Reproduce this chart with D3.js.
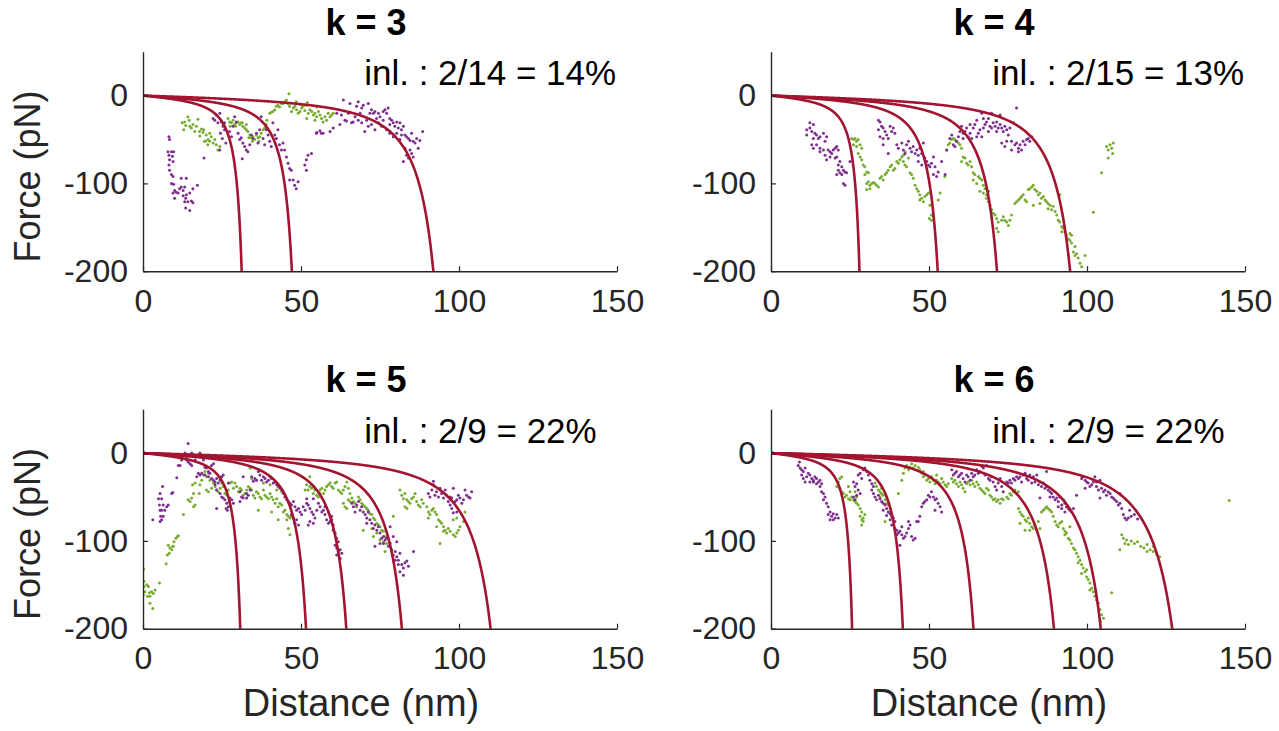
<!DOCTYPE html>
<html>
<head>
<meta charset="utf-8">
<script src="https://cdn.jsdelivr.net/npm/d3@7"></script>
<style>
  html, body { margin: 0; padding: 0; background: #ffffff; }
  svg { display: block; font-family: "Liberation Sans", Arial, Helvetica, sans-serif; }
</style>
</head>
<body>
<svg id="chart" width="1279" height="731"></svg>
<script>
// ---- axis ticks and labels ----
const xTicks = [0, 50, 100, 150];
const yTicks = [-200, -100, 0];
const panelTitles = ["k = 3", "k = 4", "k = 5", "k = 6"];
const inlierLabels = ["inl. : 2/14 = 14%", "inl. : 2/15 = 13%", "inl. : 2/9 = 22%", "inl. : 2/9 = 22%"];

// ---- WLC contour lengths (nm) of the fitted unfolding events ----
const contourK3 = [34.8, 52.5, 102.4];
const contourK4 = [31.2, 58.8, 79.7, 105.5];
const contourK5 = [34.3, 57.5, 71.7, 91.3, 122.6];
const contourK6 = [28.6, 46.5, 71.4, 99.8, 116.3, 141.5];

// ---- force-distance traces [distance nm, force pN] ----
const purpleK3 = [
  [8.2,-47],[8.4,-50],[7.9,-64],[9.0,-64],[9.7,-64],[8.2,-68],[9.3,-69],[8.4,-73],[9.5,-75],[8.2,-79],[8.4,-85],[9.0,-90],[9.5,-92],[9.0,-100],[9.7,-101],[10.0,-108],[10.5,-110],[9.5,-111],[10.0,-117],[12.1,-94],[13.7,-94],[12.1,-104],[13.2,-104],[13.7,-113],[12.7,-114],[13.5,-117],[14.8,-111],[15.8,-106],[17.2,-102],[13.2,-121],[14.2,-121],[15.3,-120],[15.8,-122],[13.5,-128],[14.8,-131],[11.1,-111],[11.6,-106],[12.7,-108],[19.3,-71],
  [22.2,-26],[22.7,-28],[23.2,-22],[23.7,-31],[24.3,-20],[24.8,-30],[25.3,-35],[25.8,-39],[24.5,-43],[25.1,-49],[26.2,-54],[24.3,-62],[25.8,-31],[27.4,-41],[28.0,-47],[28.5,-35],[29.0,-24],[29.5,-30],[30.1,-43],[30.6,-50],[31.1,-48],[31.6,-54],[32.2,-58],[32.7,-62],[33.2,-64],[31.4,-72],[33.8,-56],
  [34.3,-45],[34.8,-49],[35.9,-43],[36.4,-54],[36.9,-39],[37.4,-24],[38.0,-49],[38.5,-56],[39.0,-39],[39.6,-45],[40.1,-52],[40.6,-58],[41.1,-31],[41.7,-45],[42.2,-49],[42.7,-39],[43.2,-56],[43.8,-62],[44.3,-54],[44.8,-62],[45.4,-70],[45.9,-77],[46.4,-83],[46.9,-85],[46.4,-96],[47.5,-96],[48.0,-102],[48.5,-106],[49.1,-98],[51.2,-79],[51.7,-73],[52.2,-68],[53.3,-66],[51.7,-85],[54.9,-43],[56.4,-43],[55.0,-42],[56.0,-40],
  [63.4,-5],[65.5,-9],[67.6,-12],[68.1,-7],[69.2,-14],[69.7,-11],[71.3,-9],[72.3,-16],[72.9,-20],[73.4,-18],[74.5,-20],[75.0,-24],[76.0,-18],[76.6,-16],[77.1,-20],[77.6,-14],[78.1,-26],[78.7,-28],[79.2,-31],[80.3,-30],[80.8,-37],[81.3,-31],[81.8,-39],[82.4,-35],[82.9,-45],[83.4,-47],[84.0,-49],[84.5,-51],[85.0,-43],[85.5,-52],[86.1,-54],[86.6,-49],[87.1,-60],[87.6,-51],[88.5,-41],[84.5,-62],[85.0,-66],[85.5,-70],[84.0,-71],[82.4,-75],[83.4,-68],[82.9,-60],[81.3,-50],[80.3,-43],[79.2,-47],[78.1,-43],[77.1,-39],[75.5,-35],[74.5,-31],[73.4,-39],[72.3,-33],[71.3,-35],[70.2,-41],[69.2,-31],[68.1,-28],[67.1,-24],[66.0,-31],[65.0,-20],[63.9,-28],[62.8,-22],[62.3,-33],[61.3,-20],[60.2,-37],[59.2,-41],[57.0,-43],[64.4,-29],[70.8,-28],[73.9,-26],[76.0,-28],[78.1,-33],[79.7,-35],[81.8,-45],[71.8,-20],[68.7,-20],[66.5,-30]
];
const greenK3 = [
  [12.4,-31],[12.9,-39],[13.2,-30],[13.5,-34],[14.2,-24],[14.6,-28],[14.8,-35],[15.3,-37],[15.8,-33],[16.4,-41],[16.9,-35],[17.4,-27],[17.9,-41],[18.5,-38],[19.0,-42],[19.5,-52],[19.8,-52],[20.0,-45],[20.6,-50],[21.1,-52],[21.6,-47],[22.2,-54],[22.7,-50],[23.2,-56],[23.7,-62],[24.3,-58],[21.1,-43],[19.2,-39],[18.0,-46],[20.5,-56],
  [26.9,-26],[27.4,-30],[28.0,-31],[28.5,-28],[29.0,-33],[29.5,-31],[30.1,-30],[30.6,-33],[31.1,-31],[31.6,-35],[32.2,-37],[32.7,-39],[33.2,-41],[33.8,-45],[34.3,-48],[34.8,-47],[35.3,-50],[35.9,-45],[36.4,-48],[36.9,-47],[37.4,-43],[38.0,-39],[38.5,-37],[39.0,-33],[27.6,-35],[29.3,-35],[31.4,-31],[33.5,-48],[34.6,-52],[36.7,-52],[32.7,-33],
  [39.2,-28],[40.1,-20],[40.6,-19],[41.1,-18],[41.7,-16],[42.2,-12],[42.7,-11],[43.2,-13],[43.8,-9],[44.3,-9],[44.8,-7],[45.4,-5],[45.9,-9],[46.2,2],[46.4,-12],
  [47.0,-18],[47.6,-14],[48.1,-12],[48.6,-16],[49.1,-20],[49.7,-18],[50.2,-14],[50.7,-12],[51.2,-17],[51.8,-11],[52.3,-20],[52.8,-16],[53.4,-18],[53.9,-22],[54.4,-20],[54.9,-24],[55.5,-18],[56.0,-22],[56.5,-26],[57.0,-30],[57.6,-24],[58.1,-28],[58.6,-20],[59.2,-24],[59.7,-22],[60.2,-20],[51.8,-26],[54.4,-28],[52.0,-8],[55.0,-13],[48.5,-7],[50.0,-10]
];

const purpleK4 = [
  [12.3,-31],[13.4,-33],[11.3,-39],[12.3,-37],[12.9,-41],[13.9,-43],[11.3,-45],[14.4,-45],[13.4,-49],[15.0,-49],[15.5,-47],[16.6,-43],[17.6,-47],[17.1,-52],[12.9,-56],[14.4,-56],[15.5,-60],[16.6,-62],[18.1,-62],[18.7,-64],[19.2,-66],[19.7,-62],[20.3,-60],[20.8,-58],[21.3,-62],[15.5,-64],[17.1,-68],[17.6,-73],[18.7,-70],[20.3,-71],[20.8,-70],[21.8,-75],[22.4,-81],[21.3,-85],[22.9,-85],[21.8,-88],[23.4,-87],[23.9,-88],[20.8,-90],[22.4,-90],[22.9,-100],[23.4,-102],[21.3,-79],[25.0,-75],[13.4,-60],
  [34.0,-28],[34.5,-30],[35.0,-35],[34.0,-39],[35.5,-37],[36.1,-41],[36.6,-45],[34.5,-47],[35.5,-49],[37.1,-49],[38.2,-41],[39.2,-43],[38.7,-37],[37.7,-35],[35.5,-56],[37.1,-66],[39.8,-56],[40.3,-60],[41.4,-54],[41.9,-62],[42.4,-66],[42.9,-56],[43.5,-52],[44.0,-60],[44.5,-64],[45.0,-58],[45.6,-66],[46.1,-62],[46.6,-68],[47.1,-60],[47.7,-66],[48.2,-54],[48.7,-71],[49.3,-75],[49.8,-79],[50.3,-81],[50.8,-77],[51.4,-70],[51.9,-81],[51.4,-90],[52.4,-92],[52.9,-87],[54.0,-75],[55.1,-90],[55.6,-62],[46.6,-75],[47.7,-79],
  [56.6,-49],[57.2,-45],[57.7,-56],[58.2,-58],[58.7,-52],[59.3,-47],[59.8,-41],[60.3,-35],[60.8,-43],[61.4,-41],[61.9,-37],[62.4,-47],[63.0,-43],[63.5,-49],[64.0,-37],[64.5,-33],[65.1,-28],[65.6,-43],[66.1,-39],[66.7,-47],[66.7,-20],[67.2,-26],[67.7,-33],[68.2,-30],[68.8,-26],[69.3,-35],[69.8,-20],[70.3,-31],[70.9,-35],[71.4,-30],[71.9,-37],[72.5,-33],[73.0,-37],[73.5,-41],[74.0,-35],[74.6,-39],[75.1,-45],[75.6,-37],[76.1,-52],[76.7,-31],[77.2,-56],[77.7,-54],[78.3,-60],[78.8,-56],[79.3,-62],[79.8,-52],[80.4,-56],[80.9,-50],[81.4,-49],[81.9,-52],[82.5,-47],[77.7,-14],[73.0,-54],[74.0,-58],[76.1,-62],[74.6,-52],[78.3,-64],[69.8,-37],[68.8,-41],[72.5,-22],[63.0,-33],[60.8,-49],[65.1,-47],[67.2,-37],[71.4,-41]
];
const greenK4 = [
  [25.5,-49],[26.1,-50],[26.6,-49],[27.1,-52],[27.6,-50],[26.1,-56],[27.1,-58],[28.2,-56],[28.7,-60],[27.6,-66],[28.2,-70],[28.7,-73],[29.2,-79],[29.7,-81],[30.3,-87],[30.8,-88],[29.7,-90],[30.3,-100],[30.8,-98],[31.3,-102],[31.9,-100],[32.4,-99],[32.9,-100],[33.4,-102],[31.3,-106],[30.3,-107],[34.0,-104],[34.5,-94],[35.0,-92],[35.5,-96],[36.1,-90],[36.6,-88],[37.1,-85],[37.7,-81],[38.2,-79],[38.7,-85],[39.2,-83],[39.8,-75],[40.3,-77],[40.8,-73],[41.4,-70],[41.9,-75],[42.4,-79],[42.9,-81],[41.9,-68],[42.4,-64],[43.5,-71],[44.0,-88],[44.5,-90],[45.0,-94],[45.6,-102],[46.1,-106],[46.6,-109],[47.1,-113],[47.7,-117],[48.2,-121],[47.1,-119],[48.7,-115],[49.3,-113],[49.8,-111],[50.3,-125],[50.8,-136],[50.1,-140],[51.4,-138],[50.8,-142],[52.9,-119],[53.5,-111],
  [55.0,-92],[55.6,-62],[56.1,-56],[56.6,-54],[57.2,-50],[57.7,-49],[58.2,-50],[58.7,-52],[59.3,-54],[59.8,-56],[60.3,-60],[60.8,-70],[60.3,-75],[61.4,-71],[61.9,-77],[62.4,-79],[63.0,-75],[63.5,-81],[64.0,-88],[64.5,-90],[64.0,-96],[65.1,-100],[65.6,-92],[66.1,-94],[66.7,-96],[67.2,-102],[67.7,-106],[66.1,-109],[67.2,-111],[68.2,-113],[68.8,-109],[68.2,-117],[68.8,-121],[69.3,-125],[69.8,-130],[70.3,-134],[70.9,-136],[69.8,-138],[71.4,-140],[71.9,-144],[71.4,-151],[71.9,-155],[73.0,-142],[73.5,-138],[74.0,-142],[74.6,-144],[75.1,-148],[75.6,-142],[76.1,-136],[77.2,-123],[77.7,-121],[78.3,-119],[78.8,-117],[79.3,-115],[79.8,-113],[80.4,-119],[80.9,-121],[81.4,-107],[81.9,-106],[82.5,-104],[83.0,-102],[83.5,-107],[84.1,-109],[84.6,-113],[85.1,-111],[85.6,-117],[86.2,-115],[86.7,-119],[87.2,-121],[87.7,-123],[88.3,-125],[88.8,-130],[89.3,-126],[89.9,-132],[90.4,-136],[90.9,-142],[91.4,-144],[92.0,-149],[92.5,-151],[93.0,-155],[93.5,-159],[94.1,-163],[94.6,-165],[95.1,-168],[95.7,-178],[96.2,-182],[96.7,-180],[97.2,-185],[97.8,-191],[98.3,-195],[96.2,-172],[99.4,-182],[94.1,-182],[92.0,-155],[94.6,-157],[95.1,-159],[91.4,-113],[83.0,-125],[85.1,-123],[87.7,-129],[102.0,-133],[104.6,-88],[106.2,-58],[106.7,-62],[107.3,-56],[107.8,-60],[108.3,-54],[108.1,-66],[106.7,-71]
];

const purpleK5 = [
  [3.1,-76],[4.9,-52],[5.4,-46],[5.9,-52],[5.2,-59],[5.4,-65],[5.9,-65],[6.4,-59],[6.2,-38],[5.6,-72],[5.4,-78],[5.9,-76],[6.4,-72],[6.9,-65],[7.5,-61],[8.0,-59],[9.1,-46],[9.4,-45],[10.7,-28],[11.2,-14],[11.7,-14],[12.2,-8],[12.8,-2],[13.3,0],[13.8,-6],[14.3,-10],[14.9,-12],[15.4,-14],[13.8,-8],[14.3,11],[15.4,0],[16.5,-8],[18.0,0],[18.2,-4],[19.1,-8],[19.6,-16],[20.1,-17],[20.7,-21],[21.2,-23],[21.7,-14],[22.3,-12],[17.5,-23],[18.0,-25],[17.0,-27],[18.6,-23],[19.6,-25],[20.7,-27],[21.7,-29],[22.3,-31],[22.8,-33],[23.3,-29],[23.8,-34],[24.4,-31],[24.9,-27],[25.4,-25],[22.8,-36],[23.3,-42],[24.4,-46],[24.9,-50],[25.4,-51],[25.9,-53],[26.5,-57],[27.0,-61],[26.3,-63],[26.7,-65],[27.3,-55],[27.5,-51],[28.1,-53],[28.6,-57],[23.3,-63],[30.7,-55],[31.2,-50],[31.7,-51],[32.8,-51],[33.3,-48],[27.0,-34],[31.7,-27],[33.9,-42],
  [34.4,-27],[34.9,-32],[35.4,-29],[35.9,-31],[36.5,-21],[37.0,-25],[37.5,-31],[38.1,-27],[38.6,-29],[39.1,-33],[39.7,-31],[40.2,-27],[40.7,-29],[41.2,-34],[41.8,-33],[42.3,-36],[42.8,-38],[43.3,-40],[43.9,-42],[44.4,-46],[44.9,-50],[45.5,-53],[46.0,-55],[46.5,-57],[47.0,-59],[47.6,-55],[48.1,-61],[48.6,-65],[49.2,-63],[49.7,-67],[50.2,-70],[48.6,-76],[48.1,-80],[49.2,-82],[47.6,-74],[47.0,-70],[50.7,-61],[51.3,-65],[51.8,-57],[52.3,-59],[52.8,-63],[53.4,-67],[53.9,-70],[54.4,-74],[52.8,-78],[52.3,-82],[53.9,-80],[55.0,-65],[55.5,-57],[53.9,-52],[51.8,-52],[30.7,-44],[32.8,-46],
  [56.0,-61],[56.6,-67],[57.1,-65],[57.6,-70],[58.1,-76],[58.7,-80],[59.2,-78],[59.7,-76],[60.2,-82],[60.2,-88],[60.8,-91],[61.3,-97],[61.8,-101],[60.8,-105],[61.3,-108],[61.8,-112],[62.4,-110],[62.9,-114],[61.3,-116],[62.4,-120],[59.7,-72],[58.7,-67],[57.6,-61],
  [66.1,-57],[66.6,-61],[67.1,-67],[67.6,-59],[68.2,-55],[68.7,-65],[69.2,-61],[69.7,-67],[70.3,-70],[70.8,-74],[71.3,-67],[71.8,-76],[72.4,-80],[72.9,-86],[73.4,-82],[74.0,-88],[74.5,-84],[75.0,-91],[75.5,-97],[76.1,-103],[76.6,-99],[77.1,-97],[77.7,-106],[78.2,-103],[78.7,-110],[79.2,-116],[79.8,-112],[80.3,-118],[80.8,-122],[81.3,-114],[81.9,-127],[82.4,-131],[82.9,-125],[83.5,-123],[84.0,-129],[81.3,-135],[82.4,-139],[80.8,-127],[79.8,-122],[78.2,-84],[79.2,-95],[80.3,-101],[85.6,-112],[73.4,-106],[75.0,-103],[76.1,-95],[70.8,-80],
  [90.3,-46],[90.8,-50],[91.4,-42],[91.9,-32],[91.9,-36],[92.4,-48],[92.9,-44],[93.5,-50],[94.0,-40],[94.5,-46],[95.1,-51],[95.6,-42],[96.1,-48],[96.6,-55],[97.2,-50],[97.7,-51],[98.2,-40],[98.8,-55],[99.3,-53],[99.8,-48],[100.3,-51],[100.9,-57],[101.4,-53],[101.9,-42],[102.4,-48],[103.0,-50],[103.5,-51],[104.0,-44],[97.7,-63],[98.2,-68],[99.3,-67],[97.2,-59]
];
const greenK5 = [
  [0.2,-132],[0.3,-146],[0.6,-158],[0.1,-161],[1.2,-150],[1.7,-152],[2.0,-159],[2.2,-163],[2.7,-158],[3.3,-160],[3.8,-156],[2.2,-171],[3.1,-177],[5.2,-148],[0.3,-152],[1.4,-163],
  [7.3,-126],[7.7,-116],[8.3,-114],[8.0,-105],[9.1,-110],[9.4,-106],[9.8,-101],[10.4,-97],[10.9,-95],[11.2,-94],[9.6,-106],[8.5,-108],
  [12.8,-70],[14.3,-53],[14.9,-55],[15.4,-51],[16.0,-46],[16.0,-61],[16.5,-59],[15.7,-36],[16.5,-34],[17.8,-46],[18.0,-36],[18.6,-31],[19.1,-25],[19.6,-21],[20.1,-27],[20.7,-23],[21.2,-31],[20.1,-42],[20.7,-44],[21.7,-40],[22.3,-34],[22.8,-38],[23.3,-42],[23.8,-44],[24.4,-40],[24.4,-6],[24.9,-34],[25.4,-38],[25.9,-46],[26.5,-48],[27.0,-42],[27.5,-34],[28.1,-33],[28.6,-40],[29.1,-34],[29.6,-38],[30.2,-44],[30.7,-40],[31.2,-42],[31.7,-48],[32.3,-46],[32.8,-42],[33.3,-38],[33.9,-40],[34.4,-42],[34.9,-48],[35.4,-51],[35.9,-44],[36.5,-46],[37.0,-50],[37.5,-52],[38.1,-42],[38.6,-48],[39.1,-50],[39.7,-52],[40.2,-46],[40.7,-50],[41.2,-53],[41.8,-57],[42.3,-52],[42.8,-61],[43.3,-57],[43.9,-59],[44.4,-67],[44.9,-65],[45.5,-70],[46.0,-72],[46.5,-74],[47.0,-72],[45.5,-76],[46.0,-86],[46.5,-93],[42.8,-76],[40.7,-67],[36.5,-65],[33.9,-17],[34.4,-29],[35.9,-31],[38.1,-34],[40.2,-36],[42.3,-42],[43.9,-44],[51.8,-36],[52.3,-42],[52.8,-38],[53.4,-40],[53.9,-46],[54.4,-42],[55.0,-48],[55.5,-50],[56.0,-46],[52.8,-27],[53.9,-38],[51.3,-42],
  [56.0,-42],[56.6,-40],[57.1,-46],[57.6,-42],[58.1,-38],[58.7,-36],[59.2,-34],[59.7,-38],[60.2,-40],[60.8,-34],[61.3,-33],[61.8,-42],[62.4,-44],[62.9,-46],[63.4,-42],[63.9,-38],[64.5,-33],[65.0,-40],[65.5,-46],[63.4,-57],[63.9,-61],[64.5,-63],[65.0,-53],[65.5,-55],[66.1,-51],[66.6,-55],[67.1,-57],[67.6,-61],[68.2,-50],[68.7,-53],[69.2,-57],[69.7,-59],[70.3,-61],[70.8,-63],[71.3,-65],[71.8,-69],[72.4,-70],[72.9,-74],[73.4,-76],[74.0,-80],[74.5,-82],[75.0,-84],[75.5,-88],[76.1,-89],[76.6,-95],[75.0,-99],[76.1,-101],[77.1,-103],[74.0,-91],[72.9,-95],[72.4,-86],[69.7,-88],[76.6,-112],[79.2,-72],[81.3,-42],[81.9,-48],[82.4,-52],[82.9,-46],[83.5,-53],[84.0,-55],[84.5,-57],[85.0,-52],[85.6,-50],[86.1,-46],[86.6,-55],[87.1,-59],[87.7,-61],[88.2,-53],[88.7,-57],[89.8,-61],[90.3,-67],[90.8,-70],[91.4,-65],[91.9,-63],[92.4,-67],[92.9,-70],[93.5,-76],[94.0,-78],[94.5,-80],[95.1,-84],[95.6,-88],[95.1,-89],[96.1,-91],[96.6,-86],[97.2,-89],[98.2,-93],[98.8,-95],[99.3,-91],[99.8,-88],[100.3,-84],[101.4,-78],[101.9,-67],[98.2,-76],[99.3,-74],[94.0,-103],[90.3,-74],[92.9,-84],[82.9,-61],[83.5,-63]
];

const purpleK6 = [
  [8.6,-4],[9.0,-10],[8.6,-14],[9.2,-17],[9.7,-19],[10.2,-21],[10.8,-17],[9.7,-25],[10.2,-29],[10.8,-33],[11.3,-27],[11.8,-23],[12.3,-25],[12.9,-29],[13.4,-31],[13.9,-27],[14.4,-29],[15.0,-33],[15.5,-31],[16.0,-35],[15.5,-38],[16.0,-44],[16.6,-46],[17.1,-50],[16.6,-53],[17.6,-57],[18.1,-61],[18.7,-67],[18.1,-70],[19.2,-72],[19.7,-69],[20.3,-74],[20.8,-70],[21.3,-74],[18.7,-76],[19.7,-76],[13.4,-33],[12.3,-33],[14.4,-35],
  [26.1,-33],[26.6,-38],[27.1,-35],[27.6,-42],[28.2,-46],[26.1,-50],[26.6,-53],[27.1,-48],[27.6,-25],[28.2,-23],[28.7,-29],[29.2,-19],[29.7,-17],[30.3,-21],[30.8,-25],[31.3,-31],[31.9,-35],[32.4,-38],[31.9,-42],[32.4,-46],[32.9,-50],[33.4,-53],[34.0,-48],[34.5,-52],[35.0,-55],[35.5,-57],[36.1,-59],[36.6,-63],[35.5,-65],[37.1,-67],[36.6,-71],[37.7,-69],[38.2,-72],[37.7,-76],[38.7,-74],[39.2,-78],[38.2,-82],[39.2,-86],[39.8,-88],[40.3,-91],[40.8,-89],[41.4,-93],[41.9,-97],[42.4,-95],[42.9,-91],[43.5,-86],[44.0,-82],[44.5,-95],[45.0,-99],[45.6,-97],[40.8,-105],[39.8,-93],[41.4,-84],[43.5,-78],[46.1,-78],
  [47.7,-61],[48.2,-57],[48.7,-55],[49.3,-53],[49.8,-48],[50.3,-50],[50.8,-44],[51.4,-50],[51.9,-53],[52.4,-52],[52.9,-57],[53.5,-61],[54.0,-67],[51.9,-65],[47.1,-72],[46.6,-78],
  [57.2,-19],[57.7,-25],[58.2,-23],[58.7,-21],[59.3,-27],[59.8,-25],[60.3,-23],[60.8,-29],[61.4,-33],[61.9,-25],[62.4,-27],[63.0,-31],[63.5,-23],[64.0,-27],[64.5,-25],[65.1,-19],[65.6,-23],[66.1,-21],[66.7,-15],[67.2,-17],[67.7,-25],[68.2,-14],[68.8,-29],[69.3,-31],[69.8,-27],[70.3,-33],[70.9,-38],[71.4,-42],[71.9,-34],[72.5,-29],[73.0,-38],[73.5,-44],[74.6,-33],[75.1,-34],[75.6,-31],[76.1,-34],[76.7,-29],[77.2,-31],[77.7,-27],[78.3,-29],[78.8,-27],[79.3,-33],[79.8,-25],[80.4,-23],[80.9,-29],[81.4,-31],[81.9,-25],[82.5,-34],[83.0,-27],[83.5,-33],[84.1,-25],[84.6,-36],[85.1,-33],[85.6,-38],[86.2,-34],[86.7,-40],[87.2,-38],[87.7,-42],[88.3,-44],[88.8,-46],[89.3,-50],[89.9,-53],[90.4,-51],[90.9,-55],[91.4,-50],[92.0,-59],[92.5,-53],[93.0,-57],[93.5,-61],[94.1,-63],[94.6,-65],[95.1,-67],[95.7,-63],[93.0,-67],[92.0,-63],[90.9,-61],[87.2,-21],[85.1,-51],[88.3,-50],[96.7,-48],
  [98.3,-29],[98.8,-27],[99.4,-31],[99.9,-33],[100.4,-34],[100.9,-38],[101.5,-36],[102.0,-33],[102.5,-27],[103.0,-38],[103.6,-42],[104.1,-31],[104.6,-40],[105.2,-44],[105.7,-42],[106.2,-48],[106.7,-44],[107.3,-46],[107.8,-50],[108.3,-51],[108.8,-53],[109.4,-55],[109.9,-59],[110.4,-57],[111.0,-63],[111.5,-70],[112.0,-74],[112.5,-76],[113.1,-74],[110.4,-46],[104.1,-51],[103.0,-33],[99.4,-40],[114.0,-72],[115.0,-70],[116.0,-75],[113.5,-65]
];
const greenK6 = [
  [21.3,-33],[21.8,-29],[22.4,-27],[20.8,-38],[21.8,-40],[22.4,-44],[22.9,-46],[23.4,-50],[23.9,-48],[24.5,-52],[25.0,-53],[25.5,-50],[26.1,-53],[26.6,-55],[27.1,-57],[27.6,-59],[28.2,-63],[28.7,-67],[28.2,-72],[28.7,-76],[29.2,-74],[29.7,-70],[29.2,-78],[28.7,-82],[25.0,-44],[24.5,-38],[26.6,-44],[27.1,-50],
  [32.9,-34],[33.4,-38],[34.0,-42],[34.5,-44],[35.0,-46],[35.5,-48],[36.1,-53],[36.6,-57],[37.1,-59],[37.7,-63],[37.1,-67],[38.2,-70],[38.7,-74],[36.1,-78],[36.6,-50],[35.0,-40],[34.5,-50],
  [40.3,-46],[41.4,-31],[41.9,-23],[42.4,-17],[42.9,-14],[43.5,-19],[44.0,-16],[44.5,-12],[45.0,-17],[45.6,-14],[46.1,-8],[46.6,-16],[47.1,-19],[47.7,-23],[48.2,-27],[48.7,-25],[49.3,-31],[49.8,-29],[50.3,-33],[50.8,-27],[51.4,-31],[51.9,-35],[52.4,-31],[52.9,-33],[53.5,-35],[54.0,-29],[54.5,-33],[55.1,-36],[55.6,-38],[56.1,-35],[46.6,-6],[48.2,-21],[52.4,-25],
  [57.2,-29],[57.7,-33],[58.2,-31],[58.7,-35],[59.3,-38],[59.8,-33],[60.3,-36],[60.8,-40],[61.4,-44],[61.9,-35],[62.4,-33],[63.0,-36],[63.5,-31],[64.0,-35],[64.5,-38],[65.1,-33],[65.6,-36],[66.1,-40],[66.7,-42],[67.2,-44],[67.7,-46],[68.2,-40],[68.8,-42],[69.3,-48],[69.8,-50],[70.3,-53],[70.9,-52],[71.4,-55],[71.9,-53],[72.5,-57],[73.0,-52],[73.5,-53],[74.6,-50],[75.1,-52],[75.6,-46],[76.1,-48],[76.7,-44],[77.2,-42],[77.7,-46],[78.3,-44],[78.3,-63],[78.8,-67],[79.3,-70],[79.8,-72],[80.4,-76],[80.9,-78],[81.4,-74],[81.9,-80],[82.5,-84],[83.0,-86],[83.5,-82],[84.1,-88],[84.6,-78],[85.1,-86],[78.8,-80],[80.4,-88],[81.9,-88],[85.6,-67],[86.2,-65],[86.7,-63],[87.2,-61],[87.7,-63],[88.3,-65],[88.8,-67],[89.3,-72],[89.9,-78],[90.4,-82],[90.9,-84],[91.4,-80],[92.0,-78],[92.5,-86],[93.0,-89],[93.5,-91],[94.1,-97],[94.6,-99],[95.1,-103],[95.7,-108],[96.2,-110],[96.7,-114],[97.2,-118],[97.8,-122],[98.3,-127],[98.8,-131],[99.4,-135],[99.9,-141],[100.4,-144],[100.9,-148],[101.5,-154],[102.0,-158],[102.5,-163],[103.0,-167],[103.6,-171],[104.1,-178],[104.6,-184],[105.2,-188],[104.3,-192],[93.0,-93],[94.6,-84],[97.2,-125],[98.3,-137],[99.9,-133],[100.9,-156],[107.8,-159],[111.5,-97],[112.0,-103],[112.5,-99],[111.0,-93],[110.4,-110],[113.1,-104],
  [114.0,-100],[115.0,-103],[116.0,-101],[117.0,-106],[118.0,-108],[119.0,-104],[120.0,-110],[121.0,-112],[122.0,-115],[123.0,-118],[121.0,-106],[119.0,-112],[145.0,-54]
];

// ---- worm-like-chain model (Marko-Siggia), force drawn as negative ----
const kT = 4.11;          // pN*nm
const persistence = 0.5;  // nm
function wlcForce(x, L) {
  const r = x / L;
  return -(kT / persistence) * (1 / (4 * (1 - r) * (1 - r)) - 0.25 + r);
}

// ---- layout ----
const plotW = 474, plotH = 219.5;
const colLeft = [143, 771];
const rowTop = [51.7, 409.2];
const panels = [
  { title: panelTitles[0], label: inlierLabels[0], contours: contourK3, purple: purpleK3, green: greenK3, col: 0, row: 0 },
  { title: panelTitles[1], label: inlierLabels[1], contours: contourK4, purple: purpleK4, green: greenK4, col: 1, row: 0 },
  { title: panelTitles[2], label: inlierLabels[2], contours: contourK5, purple: purpleK5, green: greenK5, col: 0, row: 1 },
  { title: panelTitles[3], label: inlierLabels[3], contours: contourK6, purple: purpleK6, green: greenK6, col: 1, row: 1 }
];

const colors = { fit: "#A2142F", purple: "#7E2F8E", green: "#77AC30", axis: "#262626" };

const svg = d3.select("#chart");
svg.append("rect").attr("width", 1279).attr("height", 731).attr("fill", "#ffffff");

panels.forEach((p, i) => {
  const left = colLeft[p.col], top = rowTop[p.row];
  const x = d3.scaleLinear().domain([0, 150]).range([left, left + plotW]);
  const y = d3.scaleLinear().domain([-200, 50]).range([top + plotH, top]);
  const g = svg.append("g");

  const clipId = "clip" + i;
  g.append("clipPath").attr("id", clipId)
    .append("rect").attr("x", left).attr("y", top).attr("width", plotW).attr("height", plotH);

  const plot = g.append("g").attr("clip-path", `url(#${clipId})`);

  // measured traces
  plot.append("g").selectAll("circle").data(p.green).join("circle")
    .attr("cx", d => x(d[0])).attr("cy", d => y(d[1])).attr("r", 1.5)
    .attr("fill", colors.green);
  plot.append("g").selectAll("circle").data(p.purple).join("circle")
    .attr("cx", d => x(d[0])).attr("cy", d => y(d[1])).attr("r", 1.5)
    .attr("fill", colors.purple);

  // WLC fits
  const line = d3.line().x(d => x(d[0])).y(d => y(d[1]));
  p.contours.forEach(L => {
    const pts = d3.range(0, 0.94 * L, L / 600).map(xx => [xx, wlcForce(xx, L)]);
    plot.append("path").attr("d", line(pts))
      .attr("fill", "none").attr("stroke", colors.fit).attr("stroke-width", 2.6)
      .attr("stroke-linejoin", "round");
  });

  // axes
  const xAxis = d3.axisBottom(x).tickValues(xTicks).tickFormat(d => String(d))
    .tickSizeInner(-5).tickSizeOuter(0).tickPadding(18);
  const yAxis = d3.axisLeft(y).tickValues(yTicks).tickFormat(d => String(d))
    .tickSizeInner(-5).tickSizeOuter(0).tickPadding(15);

  const gx = g.append("g").attr("transform", `translate(0,${top + plotH})`).call(xAxis);
  const gy = g.append("g").attr("transform", `translate(${left},0)`).call(yAxis);
  [gx, gy].forEach(a => {
    a.select(".domain").attr("stroke", colors.axis).attr("stroke-width", 1.4);
    a.selectAll(".tick line").attr("stroke", colors.axis).attr("stroke-width", 1.2);
    a.selectAll(".tick text").attr("fill", colors.axis)
      .style("font-size", "32px").style("font-family", "'Liberation Sans', Arial, sans-serif");
  });

  // title
  g.append("text").attr("x", left + plotW / 2 - 14).attr("y", top - 17)
    .attr("text-anchor", "middle").attr("font-weight", "bold")
    .style("font-size", "36px").attr("fill", "#000").text(p.title);

  // inlier annotation
  g.append("text").attr("x", x(70)).attr("y", y(12))
    .attr("text-anchor", "start").style("font-size", "35px").attr("fill", "#000")
    .text(p.label);

  if (p.col === 0) {
    g.append("text")
      .attr("transform", `translate(40,${top + plotH / 2 + 15}) rotate(-90)`)
      .attr("text-anchor", "middle").style("font-size", "36px").attr("fill", colors.axis)
      .text("Force (pN)");
  }
  if (p.row === 1) {
    g.append("text").attr("x", left + plotW / 2 - 19).attr("y", 716)
      .attr("text-anchor", "middle").style("font-size", "38px").attr("fill", colors.axis)
      .text("Distance (nm)");
  }
});
</script>
</body>
</html>
